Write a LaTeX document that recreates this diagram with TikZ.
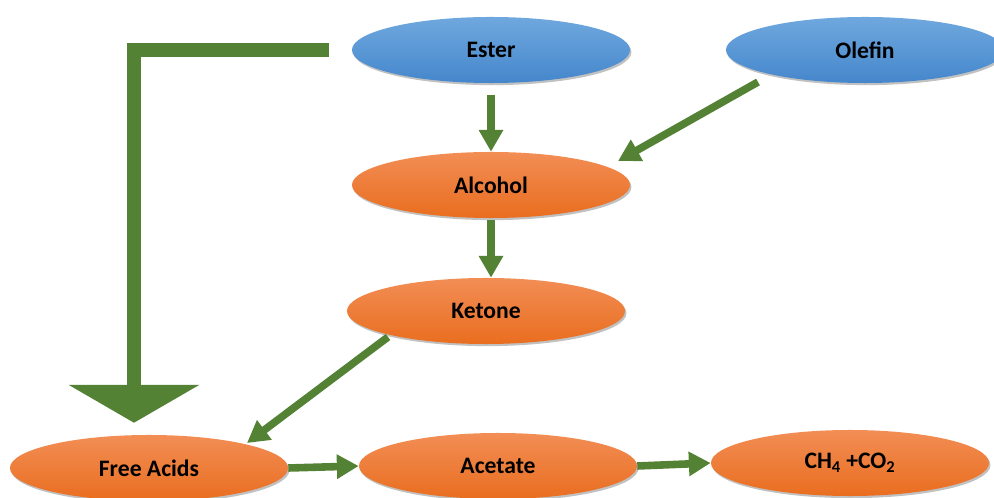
\documentclass[tikz,border=0pt]{standalone}
\usepackage{fontspec}
\setmainfont{Carlito}
\usetikzlibrary{shapes.geometric,arrows.meta,shadows,calc}
\definecolor{flowgreen}{HTML}{548235}
\definecolor{bluetop}{HTML}{6FA8DE}
\definecolor{bluebot}{HTML}{4587CC}
\definecolor{orangetop}{HTML}{F28E55}
\definecolor{orangebot}{HTML}{E96D1F}
\tikzset{
  proc/.style={ellipse, minimum width=6.95cm, minimum height=1.65cm, inner sep=0pt,
    font=\bfseries\fontsize{16.8}{19}\selectfont,
    drop shadow={shadow xshift=1pt, shadow yshift=-1.5pt, opacity=0.35, fill=black!70}},
  feed/.style={proc, top color=bluetop, bottom color=bluebot},
  prod/.style={proc, top color=orangetop, bottom color=orangebot},
  flow/.style={draw=flowgreen, line width=5.4pt, -{Triangle[width=16.5pt,length=15.5pt]}},
  bigflow/.style={draw=flowgreen, line width=9.9pt, line join=miter, -{Triangle[width=92pt,length=27pt]}},
}
\begin{document}
\begin{tikzpicture}[x=0.025cm,y=-0.025cm]
\useasboundingbox (0,0) rectangle (994,498);
\node[feed] (ester) at (491,50) {Ester};
\node[feed] (olefin) at (865,50) {Olefin};
\node[prod] (alcohol) at (491,185) {Alcohol};
\node[prod] (ketone) at (486,311) {Ketone};
\node[prod] (freeacids) at (149,468) {Free Acids};
\node[prod] (acetate) at (498,466) {Acetate};
\node[prod] (gas) at (850,463) {CH\textsubscript{4} +CO\textsubscript{2}};
\coordinate (bend) at (134,50);
\draw[flow, shorten <=8pt] (ester.south) -- (alcohol.north);
\draw[flow] ($(olefin)+(-107,32)$) -- ($(alcohol)+(127,-24)$);
\draw[flow, shorten <=1.4pt] (alcohol.south) -- (alcohol.south |- ketone.north);
\draw[flow] ($(ketone)+(-98,26)$) -- ($(freeacids)+(98,-25)$);
\draw[flow] (freeacids.east) -- (acetate.west);
\draw[flow] (acetate.east) -- (gas.west);
\draw[bigflow, shorten <=16pt, shorten >=8.5pt] (ester.west) -- (bend) -- (bend |- freeacids.north);
\end{tikzpicture}
\end{document}
